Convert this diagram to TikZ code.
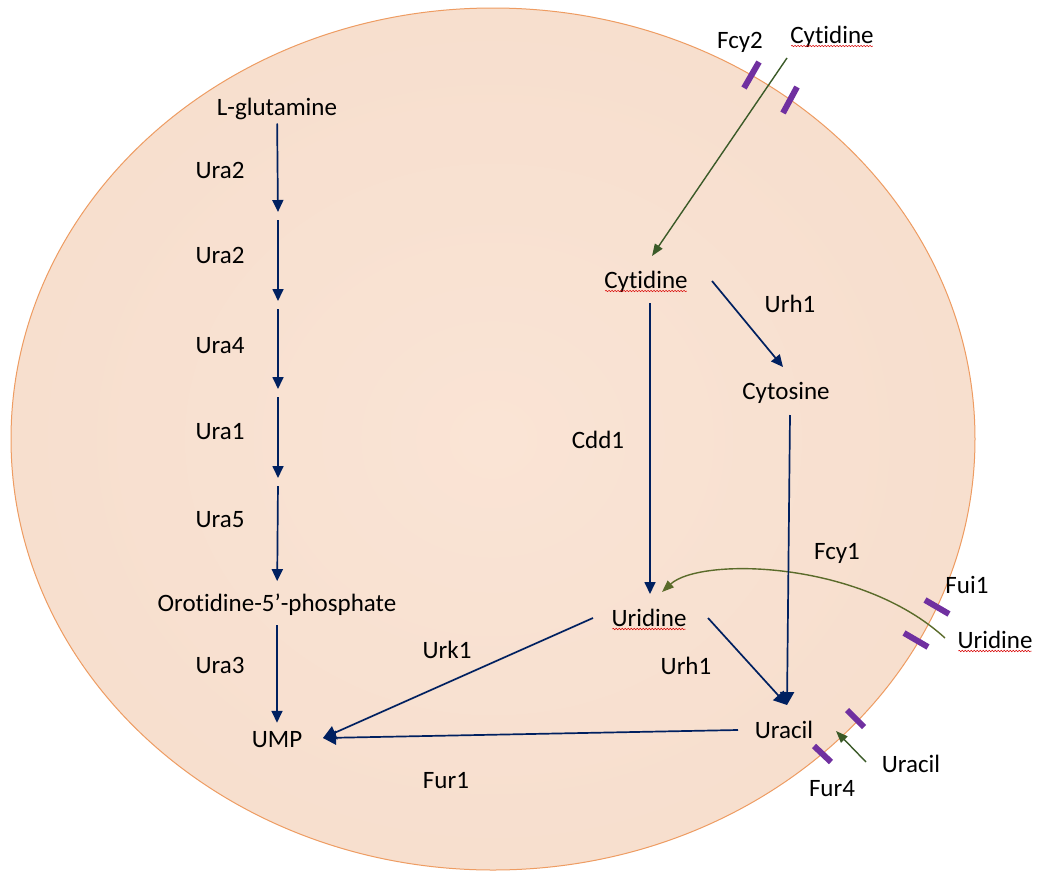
\documentclass[tikz,border=0pt]{standalone}
\usepackage{fontspec}
\setmainfont[Ligatures=NoCommon]{Carlito}
\usetikzlibrary{arrows.meta,decorations.pathmorphing}
\definecolor{navy}{HTML}{002060}
\definecolor{leafgreen}{HTML}{3B5A28}
\definecolor{olivegreen}{HTML}{5A6B2A}
\definecolor{porterpurple}{HTML}{7030A0}
\definecolor{rim}{HTML}{EE9C62}
\definecolor{cellin}{RGB}{250,228,213}
\definecolor{cellmid}{RGB}{246,221,204}
\definecolor{celledge}{RGB}{238,203,181}
\pgfdeclareradialshading{cellshade}{\pgfpoint{0bp}{0bp}}{color(0bp)=(cellin); color(32bp)=(cellmid); color(46bp)=(cellmid); color(50bp)=(celledge); color(70bp)=(celledge)}

\tikzset{
  lbl/.style={inner sep=0pt, anchor=base},
  flow/.style={navy, line width=1.7pt, -{Triangle[length=12pt,width=11pt]}},
  bigflow/.style={navy, line width=1.7pt, -{Triangle[length=13pt,width=14pt]}},
  uptake/.style={leafgreen, line width=1.4pt, -{Triangle[length=12pt,width=9pt]}},
  porter/.style={porterpurple, line width=6pt},
  spell/.style={red!85!black, line width=0.5pt, decorate,
    decoration={snake, amplitude=0.7pt, segment length=3pt}},
}

\begin{document}
\begin{tikzpicture}[x=1pt, y=-1pt, font=\fontsize{25}{30}\selectfont]
  \useasboundingbox (0,0) rectangle (1037,873);
  \fill[white] (0,0) rectangle (1037,873);
  % cell
  \shade[shading=cellshade] (493,439) ellipse [x radius=482pt, y radius=431pt];
  \draw[rim, line width=1pt] (493,439) ellipse [x radius=482pt, y radius=431pt];

  % de novo pathway
  \node[lbl] (glu) at (277,115) {L-glutamine};
  \node[lbl] (oro) at (277,611) {Orotidine-5’-phosphate};
  \node[lbl] (ump) at (277,747) {UMP};
  \foreach \i/\y in {1/216, 2/305, 3/393, 4/482}
    \coordinate (c\i) at (278,\y);
  \foreach \a/\b in {glu/c1, c1/c2, c2/c3, c3/c4}
    \draw[flow, shorten >=4pt, shorten <=4pt] (\a) -- (\b);
  \draw[flow, shorten <=4pt, shorten >=12pt] (c4) -- (oro);
  \draw[flow, shorten <=10pt, shorten >=8pt] (oro) -- (ump);
  \foreach \enz/\y in {Ura2/178, Ura2/263, Ura4/353, Ura1/439, Ura5/527, Ura3/673}
    \node[lbl] at (220,\y) {\enz};

  % salvage pathway
  \node[lbl] (cytout) at (832,43) {Cytidine};
  \node[lbl] (cyt) at (646,288) {Cytidine};
  \node[lbl] (cytos) at (786,399) {Cytosine};
  \node[lbl] (urd) at (649,626) {Uridine};
  \node[lbl] (urdout) at (995,648) {Uridine};
  \node[lbl] (ura) at (784,738) {Uracil};
  \node[lbl] (uraout) at (911,772) {Uracil};
  \foreach \n in {cytout, cyt, urd, urdout}
    \draw[spell] ([xshift=1pt,yshift=-3pt]\n.base west) -- ([xshift=-1pt,yshift=-3pt]\n.base east);

  % enzyme labels
  \node[lbl] (fcy2) at (740,48) {Fcy2};
  \node[lbl] (urh1a) at (790,312) {Urh1};
  \node[lbl] (cdd1) at (598,448) {Cdd1};
  \node[lbl] (fcy1) at (837,559) {Fcy1};
  \node[lbl] (fui1) at (967,593) {Fui1};
  \node[lbl] (urk1) at (447,658) {Urk1};
  \node[lbl] (urh1b) at (686,674) {Urh1};
  \node[lbl] (fur1) at (446,788) {Fur1};
  \node[lbl] (fur4) at (832,796) {Fur4};

  % transporters
  \draw[porter] (744,88) -- (759,62);
  \draw[porter] (783,113) -- (797,87);
  \draw[porter] (925,600) -- (949,614);
  \draw[porter] (904,633) -- (928,647);
  \draw[porter] (847,710) -- (864,727);
  \draw[porter] (814,746) -- (831,762);

  % uptake
  \coordinate (cytin) at (787,58);
  \draw[uptake] (cytin) -- (652,256);
  \coordinate (urdin) at (945,638);
  \coordinate (urdend) at (662,592);
  \draw[uptake, olivegreen] (urdin) .. controls (860,560) and (700,557) .. (urdend);
  \coordinate (urain) at (866,762);
  \coordinate (uraend) at (836,731);
  \draw[uptake] (urain) -- (uraend);

  % reactions
  \coordinate (cytA) at (650,303);
  \coordinate (urdA) at (650,594);
  \draw[flow] (cytA) -- (urdA);
  \coordinate (cytB) at (712,281);
  \coordinate (cytosA) at (783,367);
  \draw[flow] (cytB) -- (cytosA);
  \coordinate (cytosB) at (790,415);
  \coordinate (uraA) at (787,705);
  \draw[bigflow] (cytosB) -- (uraA);
  \coordinate (urdB) at (708,618);
  \draw[bigflow] (urdB) -- (uraA);
  \coordinate (urdC) at (593,618);
  \coordinate (umpA) at (323,738);
  \draw[bigflow] (urdC) -- (umpA);
  \coordinate (uraB) at (738,730);
  \draw[bigflow] (uraB) -- (umpA);
\end{tikzpicture}
\end{document}
